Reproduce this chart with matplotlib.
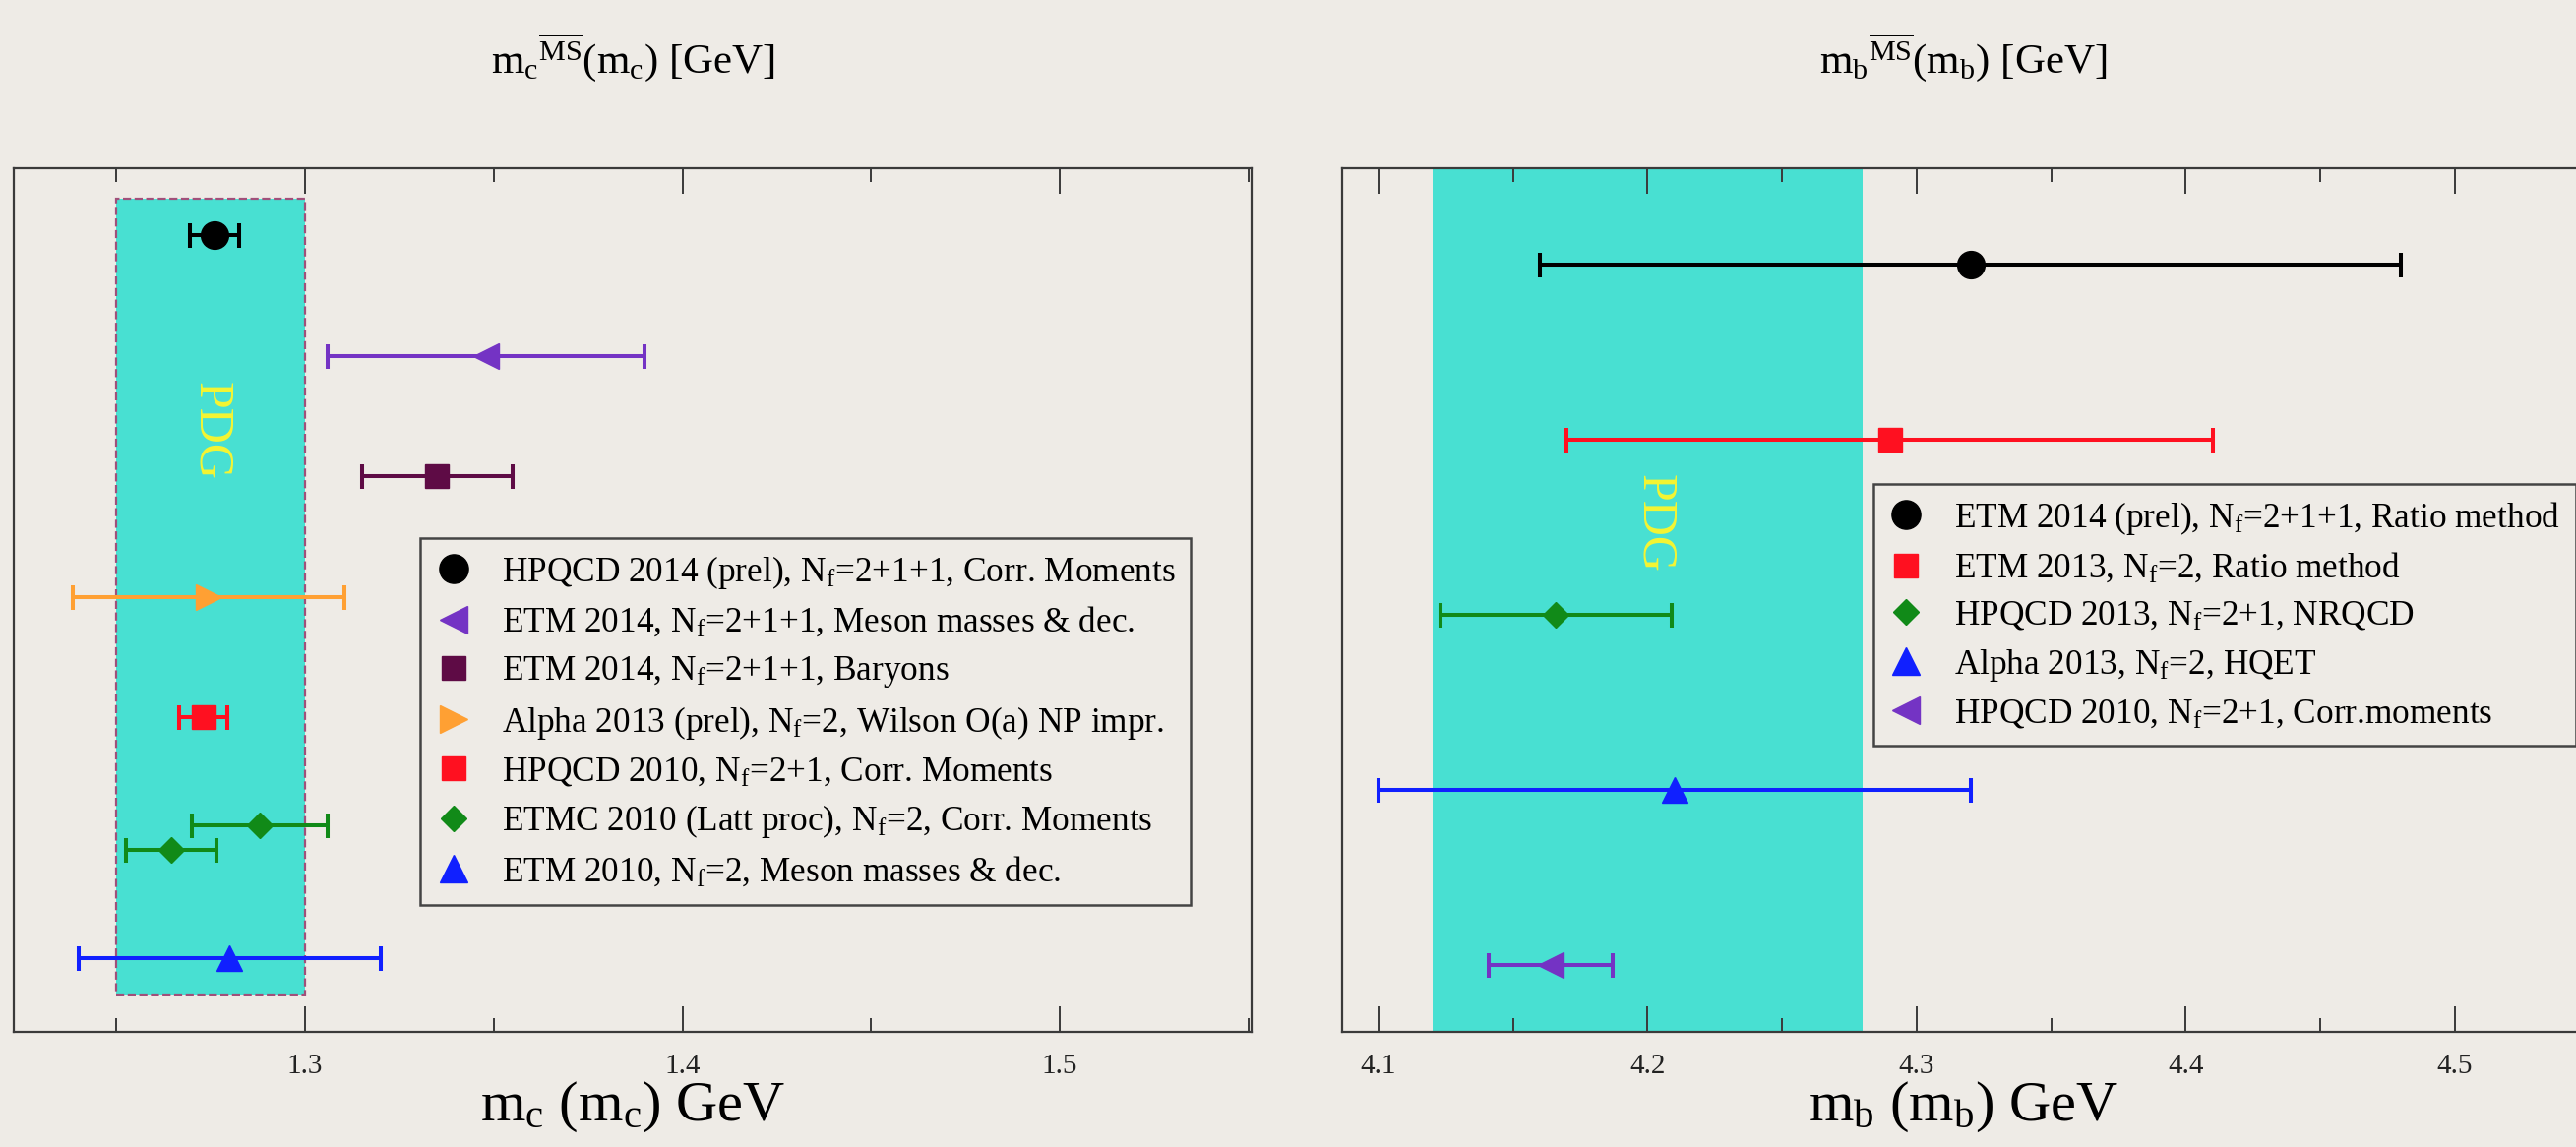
import matplotlib
matplotlib.use('Agg')
from matplotlib import pyplot as plt
from matplotlib.lines import Line2D

#############################################
#CHART TEMPLATE
bg = '#EEEBE6'
theme = {'font.family': 'Liberation Serif',
         'mathtext.fontset': 'custom',
         'mathtext.rm': 'Liberation Serif',
         'mathtext.it': 'Liberation Serif:italic',
         'figure.facecolor': bg,
         'axes.facecolor': bg,
         'axes.edgecolor': '#3a3a3a',
         'axes.linewidth': 1.6,
         'xtick.direction': 'in',
         'xtick.top': True,
         'xtick.major.size': 19,
         'xtick.minor.size': 10,
         'xtick.major.width': 1.4,
         'xtick.minor.width': 1.4,
         'xtick.color': '#3a3a3a',
         'xtick.labelcolor': '#222222',
         'xtick.labelsize': 21,
         'xtick.major.pad': 16}
matplotlib.rcParams.update(theme)
#############################################

#############################################
#Data: charm mass
mc_labels = [r'HPQCD 2014 (prel), N$_\mathrm{f}$=2+1+1, Corr. Moments',
             r'ETM 2014, N$_\mathrm{f}$=2+1+1, Meson masses & dec.',
             r'ETM 2014, N$_\mathrm{f}$=2+1+1, Baryons',
             r'Alpha 2013 (prel), N$_\mathrm{f}$=2, Wilson O(a) NP impr.',
             r'HPQCD 2010, N$_\mathrm{f}$=2+1, Corr. Moments',
             r'ETMC 2010 (Latt proc), N$_\mathrm{f}$=2, Corr. Moments',
             r'ETM 2010, N$_\mathrm{f}$=2, Meson masses & dec.']
mc_val = [[1.276], [1.348], [1.335], [1.2745], [1.273], [1.288, 1.2645], [1.280]]
mc_err = [[0.0065], [0.042], [0.020], [0.036], [0.0065], [0.018, 0.012], [0.040]]
mc_row = [[7], [6], [5], [4], [3], [2.1, 1.9], [1]]
mc_marker = ['o', '<', 's', '>', 's', 'D', '^']
mc_color = ['black', '#7433C4', '#5E0B45', '#FFA033', '#FF1020', '#118A18', '#1020FF']
pdg_mc = (1.25, 1.30)

#Data: bottom mass
mb_labels = [r'ETM 2014 (prel), N$_\mathrm{f}$=2+1+1, Ratio method',
             r'ETM 2013, N$_\mathrm{f}$=2, Ratio method',
             r'HPQCD 2013, N$_\mathrm{f}$=2+1, NRQCD',
             r'Alpha 2013, N$_\mathrm{f}$=2, HQET',
             r'HPQCD 2010, N$_\mathrm{f}$=2+1, Corr.moments']
mb_val = [4.32, 4.29, 4.166, 4.21, 4.164]
mb_err = [0.16, 0.12, 0.043, 0.11, 0.023]
mb_row = [5, 4, 3, 2, 1]
mb_marker = ['o', 's', 'D', '^', '<']
mb_color = ['black', '#FF1020', '#118A18', '#1020FF', '#7433C4']
pdg_mb = (4.12, 4.28)
#############################################

cyan = '#48E0D2'
ms_of = {'o': 20, 's': 17, 'D': 13, '^': 19, '<': 19, '>': 19}


def draw_point(ax, x, y, e, m, c):
    ax.errorbar(x, y, xerr=e, fmt=m, color=c, ms=ms_of[m],
                elinewidth=2.9, capsize=9, capthick=2.9, zorder=4)


def make_legend(ax, labels, markers, colors, anchor):
    handles = [Line2D([], [], linestyle='none', marker=m, color=c,
                      ms=ms_of[m] * 1.05) for m, c in zip(markers, colors)]
    leg = ax.legend(handles, labels, loc='upper left', bbox_to_anchor=anchor,
                    borderaxespad=0, fontsize=25.4, frameon=True, fancybox=False,
                    edgecolor='#444444', facecolor=bg, framealpha=1,
                    handlelength=1.0, handletextpad=0.9, labelspacing=0.42,
                    borderpad=0.45)
    leg.get_frame().set_linewidth(1.8)
    return leg


fig = plt.figure(figsize=(26.18, 11.66), dpi=100)

#############################################
#Left panel: m_c
ax1 = fig.add_axes([14 / 2618, 117 / 1166, 1258 / 2618, 878 / 1166])
ax1.add_patch(plt.Rectangle((pdg_mc[0], 0.7), pdg_mc[1] - pdg_mc[0], 6.6,
                            facecolor=cyan, edgecolor='#A0507A',
                            linestyle='--', linewidth=1.6, zorder=1))
ax1.text(sum(pdg_mc) / 2, 5.38, 'PDG', rotation=-90, color='#F5F532',
         fontsize=36, ha='center', va='center', zorder=2)
for vals, errs, rows, m, c in zip(mc_val, mc_err, mc_row, mc_marker, mc_color):
    draw_point(ax1, vals, rows, errs, m, c)
ax1.set_xlim(1.2228, 1.5508)
ax1.set_ylim(0.388, 7.556)
ax1.set_xticks([1.3, 1.4, 1.5])
ax1.set_xticks([1.25, 1.35, 1.45, 1.55], minor=True)
ax1.set_yticks([])
ax1.set_xlabel(r'm$_\mathrm{c}$ (m$_\mathrm{c}$) GeV', fontsize=42, labelpad=0)
ax1.set_title(r'm$_\mathrm{c}$$^{\overline{\mathrm{MS}}}$(m$_\mathrm{c}$) [GeV]',
              fontsize=31, pad=70)
make_legend(ax1, mc_labels, mc_marker, mc_color, (0.3283, 0.5718))
#############################################

#############################################
#Right panel: m_b
ax2 = fig.add_axes([1364 / 2618, 117 / 1166, 1262 / 2618, 878 / 1166])
ax2.axvspan(pdg_mb[0], pdg_mb[1], color=cyan, lw=0, zorder=1)
ax2.text(sum(pdg_mb) / 2 + 0.0025, 3.52, 'PDG', rotation=-90, color='#F5F532',
         fontsize=36, ha='center', va='center', zorder=2)
for x, e, y, m, c in zip(mb_val, mb_err, mb_row, mb_marker, mb_color):
    draw_point(ax2, x, y, e, m, c)
ax2.set_xlim(4.0865, 4.5479)
ax2.set_ylim(0.616, 5.55)
ax2.set_xticks([4.1, 4.2, 4.3, 4.4, 4.5])
ax2.set_xticks([4.15, 4.25, 4.35, 4.45], minor=True)
ax2.set_yticks([])
ax2.set_xlabel(r'm$_\mathrm{b}$ (m$_\mathrm{b}$) GeV', fontsize=42, labelpad=0)
ax2.set_title(r'm$_\mathrm{b}$$^{\overline{\mathrm{MS}}}$(m$_\mathrm{b}$) [GeV]',
              fontsize=31, pad=70)
make_legend(ax2, mb_labels, mb_marker, mb_color, (0.4275, 0.6347))
#############################################

plt.savefig('out.png', dpi=100, facecolor=bg)
